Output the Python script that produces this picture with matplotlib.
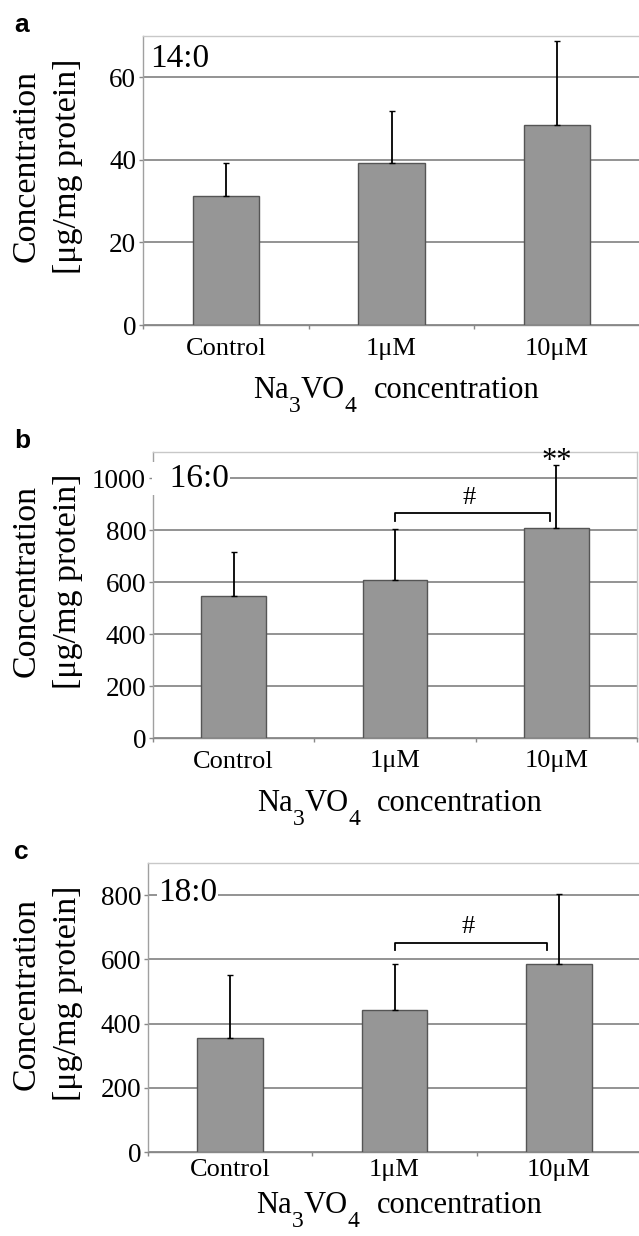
import matplotlib
matplotlib.use("Agg")
import matplotlib.pyplot as plt

plt.rcParams['font.family'] = ['Liberation Serif', 'DejaVu Serif']

# Data
categories = ["Control", "1\u03bcM", "10\u03bcM"]

c14_mean = [31.3, 39.3, 48.5]
c14_err = [8.0, 12.5, 20.2]

c16_mean = [546, 607, 806]
c16_err = [169, 198, 244]

c18_mean = [354, 443, 587]
c18_err = [196, 141, 218]

W, H = 639, 1236
fig = plt.figure(figsize=(W / 100, H / 100), dpi=100)
renderer = fig.canvas.get_renderer()
PT = 0.72  # points per pixel at 100 dpi


def fx(px):
    return px / W


def fy(px):
    return 1 - px / H


# Na3VO4 concentration, with large dropped subscripts like the original
def draw_xlabel(xc, baseline):
    pieces = [("Na", 0, 22), ("3", 14, 17), ("VO", 0, 22), ("4", 14, 17),
              (None, 0, 17), ("concentration", 0, 22)]
    texts = []
    total = 0
    for s, drop, size in pieces:
        if s is None:
            texts.append((None, 0, size))
            total += size
            continue
        t = fig.text(0, 0, s, fontsize=size, ha='left', va='baseline')
        w = t.get_window_extent(renderer).width
        texts.append((t, drop, w))
        total += w
    x = xc - total / 2
    for t, drop, w in texts:
        if t is not None:
            t.set_position((fx(x), fy(baseline + drop)))
        x += w


def draw_panel(box, letter, name, name_off, means, errs, ymax, yticks,
               bracket=None, stars=None, xlabel_gap=73, xpad=9):
    left, top, right, bottom = box
    ax = fig.add_axes([fx(left), fy(bottom), fx(right - left), (bottom - top) / H])
    x = list(range(len(categories)))

    ax.bar(x, means, width=0.4, color='#969696', edgecolor='#555555', linewidth=1.0, zorder=3)
    ax.errorbar(x, means, yerr=[[0] * len(errs), errs], fmt='none', ecolor='black',
                elinewidth=1.3, capsize=2, capthick=1.0, zorder=4)

    ax.set_xlim(-0.5, len(categories) - 0.5)
    ax.set_ylim(0, ymax)
    ax.set_yticks(yticks)
    ax.yaxis.grid(True, color='#808080', linewidth=1.2, zorder=0)
    ax.set_axisbelow(True)

    ax.set_xticks(x)
    ax.set_xticklabels(categories, fontsize=19)
    ax.set_xticks([i + 0.5 for i in range(-1, len(categories))], minor=True)
    ax.tick_params(axis='x', which='major', length=0, pad=xpad)
    ax.tick_params(axis='x', which='minor', length=3, color='#888888', width=1)
    ax.tick_params(axis='y', labelsize=19.5, length=3, color='#888888', width=1, pad=2)

    for side in ['top', 'right']:
        ax.spines[side].set_color('#c8c8c8')
    ax.spines['left'].set_color('#a0a0a0')
    ax.spines['bottom'].set_color('#888888')
    for s in ax.spines.values():
        s.set_linewidth(1.0)

    # fatty acid label in the corner, white box hides the grid line
    ox, oy = name_off
    ax.annotate(name, xy=(0, 1), xycoords='axes fraction',
                xytext=(ox * PT, -oy * PT), textcoords='offset points',
                fontsize=24, ha='left', va='baseline', zorder=5,
                bbox=dict(facecolor='white', edgecolor='none', pad=1.0))

    if bracket is not None:
        x0, x1, yb, ydrop, ysign = bracket
        ax.plot([x0, x0, x1, x1], [yb - ydrop, yb, yb, yb - ydrop], color='black',
                linewidth=1.3, zorder=5)
        ax.text((x0 + x1) / 2 - 0.02, ysign, '#', fontsize=19, ha='center', va='center', zorder=5)

    if stars is not None:
        ax.text(2, stars, '**', fontsize=22, ha='center', va='baseline', zorder=5,
                clip_on=False)

    # panel letter
    fig.text(fx(14), fy(top - 4), letter, fontsize=19, fontweight='bold',
             family='Liberation Sans', ha='left', va='baseline')

    # y axis label (two lines)
    yc = fy((top + bottom) / 2 - 14)
    fig.text(fx(26), yc, "Concentration", rotation=90, fontsize=24.5,
             ha='center', va='center')
    fig.text(fx(68), yc, "[\u03bcg/mg protein]", rotation=90, fontsize=24.5,
             ha='center', va='center')

    draw_xlabel((left + right) / 2 + 5, bottom + xlabel_gap)
    return ax


draw_panel((143, 36, 640, 325), 'a', '14:0', (7, 31), c14_mean, c14_err, 70, [0, 20, 40, 60])
draw_panel((153, 452, 637, 738), 'b', '  16:0', (0, 35), c16_mean, c16_err, 1100,
           [0, 200, 400, 600, 800, 1000],
           bracket=(1.0, 1.96, 865, 30, 923), stars=1035)
draw_panel((148, 863, 641, 1152), 'c', '18:0', (10, 38), c18_mean, c18_err, 900,
           [0, 200, 400, 600, 800],
           bracket=(1.0, 1.93, 652, 23, 701), xlabel_gap=61, xpad=5)

fig.savefig('out.png', dpi=100)
